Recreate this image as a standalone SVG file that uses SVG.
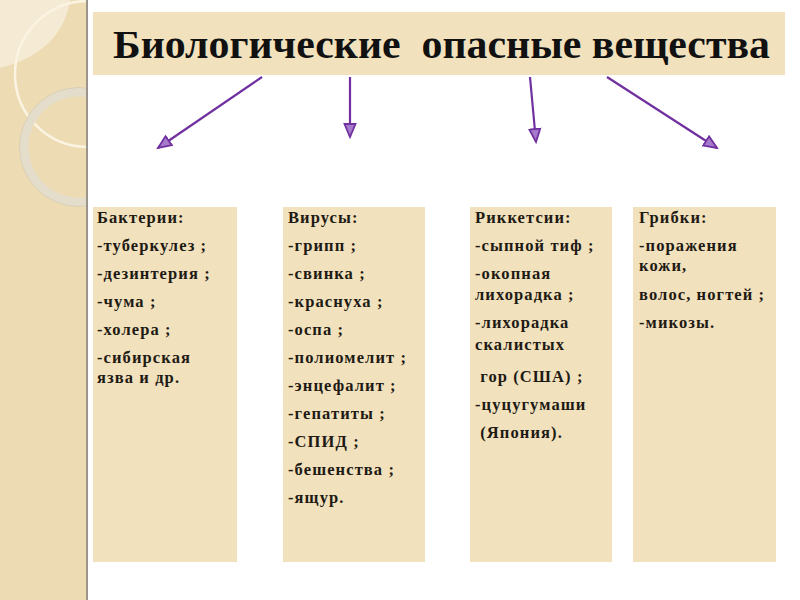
<svg xmlns="http://www.w3.org/2000/svg" width="800" height="600" viewBox="0 0 800 600">
<style>
.box{fill:#f1e1bd}
.t{font-family:"Liberation Serif","Times New Roman",serif;font-weight:bold;font-size:16.5px;fill:#1e1a14;letter-spacing:1.1px}
.title{font-family:"Liberation Serif","Times New Roman",serif;font-weight:bold;font-size:41px;fill:#111}
.arr{stroke:#7030a0;stroke-width:2.2;fill:none}
</style>
<defs>
<marker id="ah" markerUnits="userSpaceOnUse" markerWidth="16" markerHeight="14" refX="14" refY="7" orient="auto">
<path d="M1,1.5 L14,7 L1,12.5 Z" fill="#a67bcb" stroke="#7030a0" stroke-width="1.8"/>
</marker>
<clipPath id="sb"><rect x="0" y="0" width="87" height="600"/></clipPath>
</defs>
<rect width="800" height="600" fill="#ffffff"/>
<g id="sidebar">
<rect x="0" y="0" width="87" height="600" fill="#eddcb3"/>
<g clip-path="url(#sb)">
<path d="M0,0 L70,0 Q62,52 0,68 Z" fill="#f5ead3"/>
<circle cx="88" cy="74" r="73" fill="none" stroke="#fbf4e2" stroke-width="2.5"/>
<circle cx="79" cy="147" r="55" fill="none" stroke="#e4ddcc" stroke-width="9"/>
<circle cx="79" cy="147" r="59.5" fill="none" stroke="#d6cbb0" stroke-width="0.8"/>
</g>
<rect x="86" y="0" width="2" height="600" fill="#9a948a"/>
</g>
<g id="title">
<rect x="93" y="12" width="692" height="63" class="box"/>
<text x="113" y="58" class="title" textLength="657" lengthAdjust="spacingAndGlyphs" xml:space="preserve">Биологические  опасные вещества</text>
</g>
<g id="connectors">
<line x1="262" y1="77" x2="158" y2="148" class="arr" marker-end="url(#ah)"/>
<line x1="350" y1="77" x2="350" y2="137" class="arr" marker-end="url(#ah)"/>
<line x1="530" y1="77" x2="536" y2="142" class="arr" marker-end="url(#ah)"/>
<line x1="607" y1="77" x2="717" y2="148" class="arr" marker-end="url(#ah)"/>
</g>
<g id="bacteria">
<rect x="93" y="207" width="144" height="355" class="box"/>
<text class="t" x="97" y="223">Бактерии:</text>
<text class="t" x="97" y="251">-туберкулез ;</text>
<text class="t" x="97" y="279">-дезинтерия ;</text>
<text class="t" x="97" y="307">-чума ;</text>
<text class="t" x="97" y="335">-холера ;</text>
<text class="t" x="97" y="363">-сибирская</text>
<text class="t" x="97" y="383">язва и др.</text>
</g>
<g id="viruses">
<rect x="283" y="207" width="142" height="355" class="box"/>
<text class="t" x="288" y="223">Вирусы:</text>
<text class="t" x="288" y="251">-грипп ;</text>
<text class="t" x="288" y="279">-свинка ;</text>
<text class="t" x="288" y="307">-краснуха ;</text>
<text class="t" x="288" y="335">-оспа ;</text>
<text class="t" x="288" y="363">-полиомелит ;</text>
<text class="t" x="288" y="391">-энцефалит ;</text>
<text class="t" x="288" y="419">-гепатиты ;</text>
<text class="t" x="288" y="447">-СПИД ;</text>
<text class="t" x="288" y="475">-бешенства ;</text>
<text class="t" x="288" y="503">-ящур.</text>
</g>
<g id="rickettsia">
<rect x="470" y="207" width="142" height="355" class="box"/>
<text class="t" x="475" y="223">Риккетсии:</text>
<text class="t" x="475" y="251">-сыпной тиф ;</text>
<text class="t" x="475" y="279">-окопная</text>
<text class="t" x="475" y="300">лихорадка ;</text>
<text class="t" x="475" y="328">-лихорадка</text>
<text class="t" x="475" y="350">скалистых</text>
<text class="t" x="475" y="382" xml:space="preserve"> гор (США) ;</text>
<text class="t" x="475" y="410">-цуцугумаши</text>
<text class="t" x="475" y="438" xml:space="preserve"> (Япония).</text>
</g>
<g id="fungi">
<rect x="633" y="207" width="143" height="355" class="box"/>
<text class="t" x="639" y="223">Грибки:</text>
<text class="t" x="639" y="251">-поражения</text>
<text class="t" x="639" y="271">кожи,</text>
<text class="t" x="639" y="300">волос, ногтей ;</text>
<text class="t" x="639" y="328">-микозы.</text>
</g>
</svg>
